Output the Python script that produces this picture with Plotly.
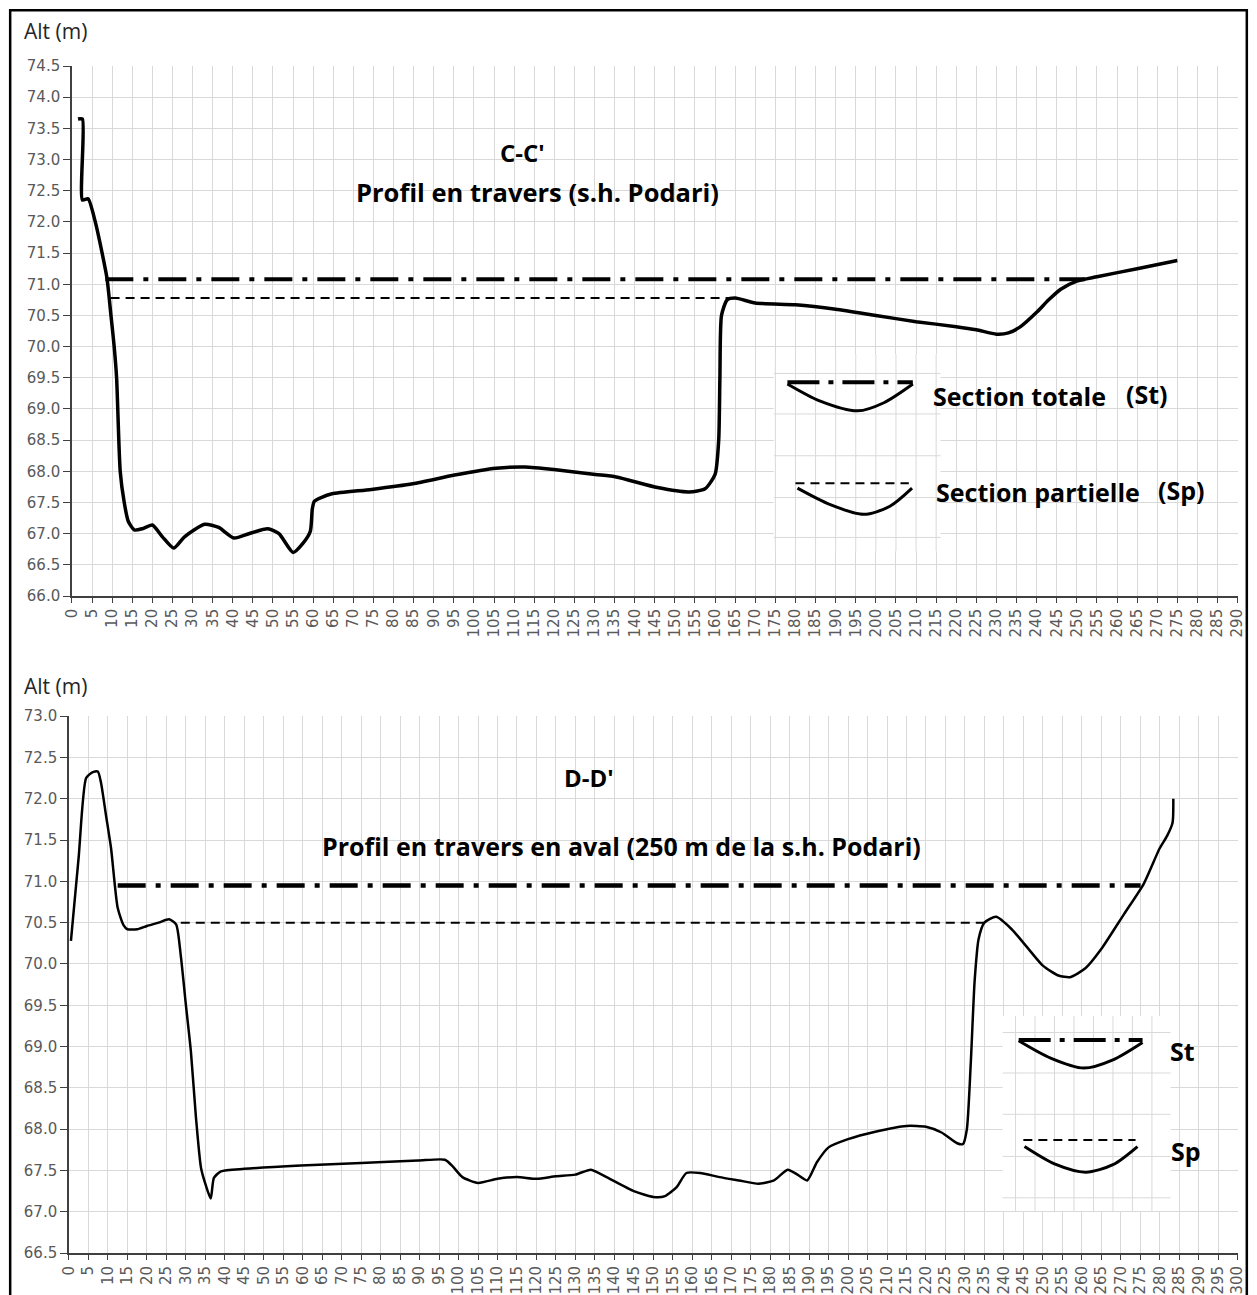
import plotly.graph_objects as go

W, H = 1257, 1295

# ---------------- Data: C-C' (top) ----------------
cc_x = [1.5, 2.6, 2.6, 4.0, 5.8, 7.5, 8.7, 9.7, 10.5, 11.1, 12.0, 13.0, 14.0, 15.5, 17.5, 20, 22.5, 25.3, 28, 33,
        36.5, 40.3, 44, 48.7, 51.5, 55, 57.5, 59.3, 59.8, 60.3, 62, 64.7, 74.5, 84.8, 95.2, 105.5, 112.7, 119.9,
        130.2, 135.4, 145.7, 153.5, 157.5, 160.0, 160.9, 161.2, 161.6, 163, 165, 170, 180, 190, 200, 210, 220,
        225, 230, 233, 236, 240, 243, 246, 250, 255, 265, 275]
cc_y = [73.65, 73.65, 72.35, 72.37, 72.0, 71.5, 71.1, 70.5, 70.0, 69.5, 68.0, 67.5, 67.2, 67.06, 67.08, 67.14,
        66.95, 66.77, 66.95, 67.15, 67.1, 66.93, 67.0, 67.08, 67.0, 66.7, 66.85, 67.04, 67.4, 67.52, 67.58, 67.64,
        67.71, 67.8, 67.94, 68.05, 68.07, 68.03, 67.95, 67.91, 67.74, 67.67, 67.72, 67.95, 68.5, 69.5, 70.5, 70.75,
        70.78, 70.7, 70.67, 70.6, 70.5, 70.4, 70.32, 70.27, 70.2, 70.22, 70.32, 70.55, 70.75, 70.92, 71.05, 71.12,
        71.25, 71.38]
cc_st_x = [8.3, 252.0]
cc_st_y = [71.08, 71.08]
cc_sp_x = [9.6, 163.5]
cc_sp_y = [70.78, 70.78]

# legend glyphs (top)
cc_leg_st_line_x = [178.0, 209.2]
cc_leg_st_line_y = [69.43, 69.43]
cc_leg_st_curve_x = [178.0, 186.0, 195.5, 202.0, 209.2]
cc_leg_st_curve_y = [69.40, 69.13, 68.97, 69.10, 69.40]
cc_leg_sp_line_x = [180.0, 208.2]
cc_leg_sp_line_y = [67.81, 67.81]
cc_leg_sp_curve_x = [180.5, 188.5, 197.0, 203.5, 209.0]
cc_leg_sp_curve_y = [67.73, 67.47, 67.31, 67.44, 67.73]
# pasted legend picture (top): its box and its own grid
cc_leg_box_x = [174.6, 216.1]
cc_leg_box_y = [66.72, 69.88]
cc_leg_grid_x = [175, 180, 185, 190, 195, 200, 205, 210, 215]
cc_leg_grid_y = [69.57, 68.92, 68.25, 67.58, 66.94]

# ---------------- Data: D-D' (bottom) ----------------
dd_x = [0.5, 2.5, 4.4, 6.0, 7.4, 8.2, 9.5, 10.8, 12.5, 14, 15, 17.5, 20, 23, 25.7, 27.5, 28.7, 30, 31.3, 32.6,
        33.9, 35.2, 36.4, 37.2, 39, 45, 59.5, 75, 89.6, 96.5, 98.5, 101, 105, 110, 115, 120, 125, 130, 134, 138,
        145, 150, 153, 156, 158.5, 162, 167, 172, 177, 181, 184.5, 187, 189.5, 192, 195, 200, 207, 215, 220, 224,
        228, 229.5, 230.5, 231.5, 232.5, 233.5, 235, 238, 242, 246, 250, 254, 257, 261, 265, 270.8, 275.9, 280,
        281.9, 283.3, 283.5]
dd_y = [70.28, 71.3, 72.25, 72.32, 72.33, 72.2, 71.8, 71.4, 70.68, 70.47, 70.42, 70.42, 70.46, 70.5, 70.54, 70.48,
        70.1, 69.51, 68.94, 68.14, 67.53, 67.31, 67.16, 67.41, 67.49, 67.52, 67.56, 67.59, 67.62, 67.63, 67.55,
        67.42, 67.35, 67.4, 67.42, 67.4, 67.43, 67.45, 67.51, 67.42, 67.25, 67.18, 67.19, 67.3, 67.47, 67.47, 67.42,
        67.38, 67.34, 67.38, 67.51, 67.45, 67.38, 67.6, 67.78, 67.88, 67.97, 68.04, 68.03, 67.96, 67.83, 67.82, 68.0,
        68.8, 69.8, 70.3, 70.5, 70.57, 70.42, 70.2, 69.98, 69.86, 69.84, 69.95, 70.18, 70.6, 70.97, 71.4, 71.55,
        71.71, 72.0]
dd_st_x = [12.5, 275.1]
dd_st_y = [70.95, 70.95]
dd_sp_x = [28.7, 235.7]
dd_sp_y = [70.5, 70.5]

dd_leg_st_line_x = [243.8, 275.6]
dd_leg_st_line_y = [69.08, 69.08]
dd_leg_st_curve_x = [243.8, 252.0, 260.5, 268.0, 275.6]
dd_leg_st_curve_y = [69.07, 68.86, 68.74, 68.84, 69.05]
dd_leg_sp_line_x = [245.0, 273.8]
dd_leg_sp_line_y = [67.87, 67.87]
dd_leg_sp_curve_x = [245.3, 253.0, 261.0, 268.0, 274.3]
dd_leg_sp_curve_y = [67.79, 67.58, 67.48, 67.57, 67.79]
dd_leg_box_x = [239.7, 282.8]
dd_leg_box_y = [67.01, 69.37]
dd_leg_grid_x = [243, 248, 253, 258, 263, 268, 273, 278]
dd_leg_grid_y = [69.17, 68.68, 68.18, 67.67, 67.17]

top_xticks = list(range(0, 291, 5))
bot_xticks = list(range(0, 301, 5))

DASHDOT = "28px,10px,5px,10px"
DASH = "9px,6px"
GRID = "#d9d9d9"

fig = go.Figure()

def add(x, y, xa, ya, width, dash="solid", shape="linear", smooth=None, color="black"):
    line = dict(color=color, width=width, dash=dash, shape=shape)
    if smooth is not None:
        line["smoothing"] = smooth
    fig.add_trace(go.Scatter(x=x, y=y, mode="lines", line=line, xaxis=xa, yaxis=ya,
                             showlegend=False, hoverinfo="skip"))

# legend picture boxes: white patch (shape, between grid and traces) + their own offset grid (traces)
def legend_box(bx, by, gx, gy, xa, ya, xr, yr):
    fig.add_shape(type="rect", xref=xr, yref=yr, x0=bx[0], x1=bx[1], y0=by[0], y1=by[1],
                  fillcolor="white", line=dict(width=0), layer="between")
    lx, ly = [], []
    for v in gx:
        lx += [v, v, None]
        ly += [by[0], by[1], None]
    for v in gy:
        lx += [bx[0], bx[1], None]
        ly += [v, v, None]
    add(lx, ly, xa, ya, 1, color=GRID)

legend_box(cc_leg_box_x, cc_leg_box_y, cc_leg_grid_x, cc_leg_grid_y, "x", "y", "x", "y")
legend_box(dd_leg_box_x, dd_leg_box_y, dd_leg_grid_x, dd_leg_grid_y, "x2", "y2", "x2", "y2")

# top
add(cc_x, cc_y, "x", "y", 3.5, shape="spline", smooth=0.6)
add(cc_st_x, cc_st_y, "x", "y", 4, dash=DASHDOT)
add(cc_sp_x, cc_sp_y, "x", "y", 2, dash=DASH)
add(cc_leg_st_line_x, cc_leg_st_line_y, "x", "y", 4, dash="32px,9px,5px,9px")
add(cc_leg_st_curve_x, cc_leg_st_curve_y, "x", "y", 3, shape="spline", smooth=0.8)
add(cc_leg_sp_line_x, cc_leg_sp_line_y, "x", "y", 2, dash=DASH)
add(cc_leg_sp_curve_x, cc_leg_sp_curve_y, "x", "y", 3, shape="spline", smooth=0.8)

# bottom
add(dd_x, dd_y, "x2", "y2", 2.5, shape="spline", smooth=0.6)
add(dd_st_x, dd_st_y, "x2", "y2", 4.5, dash=DASHDOT)
add(dd_sp_x, dd_sp_y, "x2", "y2", 2, dash=DASH)
add(dd_leg_st_line_x, dd_leg_st_line_y, "x2", "y2", 4, dash="32px,9px,5px,9px")
add(dd_leg_st_curve_x, dd_leg_st_curve_y, "x2", "y2", 3, shape="spline", smooth=0.8)
add(dd_leg_sp_line_x, dd_leg_sp_line_y, "x2", "y2", 2, dash=DASH)
add(dd_leg_sp_curve_x, dd_leg_sp_curve_y, "x2", "y2", 3, shape="spline", smooth=0.8)

tickfont = dict(family="DejaVu Sans", size=15, color="#595959")
common_x = dict(tickangle=-90, showgrid=True, gridcolor=GRID, gridwidth=1, showline=True,
                linecolor="#404040", linewidth=1.5, ticks="outside", ticklen=5, tickcolor="#404040",
                tickfont=tickfont, zeroline=False, tickmode="array")
common_y = dict(showgrid=True, gridcolor=GRID, gridwidth=1, showline=True, linecolor="#404040",
                linewidth=1.5, ticks="outside", ticklen=7, tickcolor="#404040", tickfont=tickfont,
                zeroline=False, dtick=0.5, tickformat=".1f")

# the photographed page shows the figure as 0.986*f + 8; place things so they land on target pixels
S, OFF = 0.986, 8.0

def fpx(r):
    return (r - OFF) / S

def px(r):
    return fpx(r) / W

def py(r):
    return 1 - fpx(r) / H

fig.update_layout(
    width=W, height=H, margin=dict(l=0, r=0, t=0, b=0),
    paper_bgcolor="white", plot_bgcolor="white",
    xaxis=dict(domain=[px(71), px(1237)], range=[0, 290], anchor="y",
               tickvals=top_xticks, ticktext=[str(v) for v in top_xticks], **common_x),
    yaxis=dict(domain=[py(595), py(65)], range=[66, 74.5], anchor="x", tick0=66, **common_y),
    xaxis2=dict(domain=[px(68), px(1237)], range=[0, 300], anchor="y2",
                tickvals=bot_xticks, ticktext=[str(v) for v in bot_xticks], **common_x),
    yaxis2=dict(domain=[py(1252), py(715)], range=[66.5, 73], anchor="x2", tick0=66.5, **common_y),
)

TF = "Open Sans"
annos = [
    ("Alt (m)", 21, 30, "left", dict(family=TF, size=21, color="#262626")),
    ("Alt (m)", 21, 685, "left", dict(family=TF, size=21, color="#262626")),
    ("<b>C-C'</b>", 522, 151, "center", dict(family=TF, size=24, color="black")),
    ("<b>Profil en travers (s.h. Podari)</b>", 537, 191, "center", dict(family=TF, size=25.5, color="black")),
    ("<b>Section totale</b>", 930, 395, "left", dict(family=TF, size=25, color="black")),
    ("<b>(St)</b>", 1123, 393, "left", dict(family=TF, size=25, color="black")),
    ("<b>Section partielle</b>", 933, 491, "left", dict(family=TF, size=25, color="black")),
    ("<b>(Sp)</b>", 1155, 489, "left", dict(family=TF, size=25, color="black")),
    ("<b>D-D'</b>", 588, 776, "center", dict(family=TF, size=24, color="black")),
    ("<b>Profil en travers en aval (250 m de la s.h. Podari)</b>", 621, 845, "center",
     dict(family=TF, size=25, color="black")),
    ("<b>St</b>", 1167, 1050, "left", dict(family=TF, size=25, color="black")),
    ("<b>Sp</b>", 1168, 1150, "left", dict(family=TF, size=25, color="black")),
]
for text, x, y, anchor, font in annos:
    fig.add_annotation(text=text, x=px(x), y=py(y), xref="paper", yref="paper", xanchor=anchor,
                       yanchor="middle", showarrow=False, font=font)

# outer frame
fig.add_shape(type="rect", xref="paper", yref="paper",
              x0=max(px(7), 1.2 / W), x1=min(px(1254), 1 - 1.2 / W),
              y0=-0.02, y1=min(py(7), 1 - 1.2 / H),
              line=dict(color="black", width=2.5), fillcolor="rgba(0,0,0,0)", layer="above")

fig.write_html(
    "out.html",
    config={"displayModeBar": False},
    post_script="document.body.style.margin='0';document.body.style.padding='0';"
                "document.documentElement.style.overflow='hidden';",
)
